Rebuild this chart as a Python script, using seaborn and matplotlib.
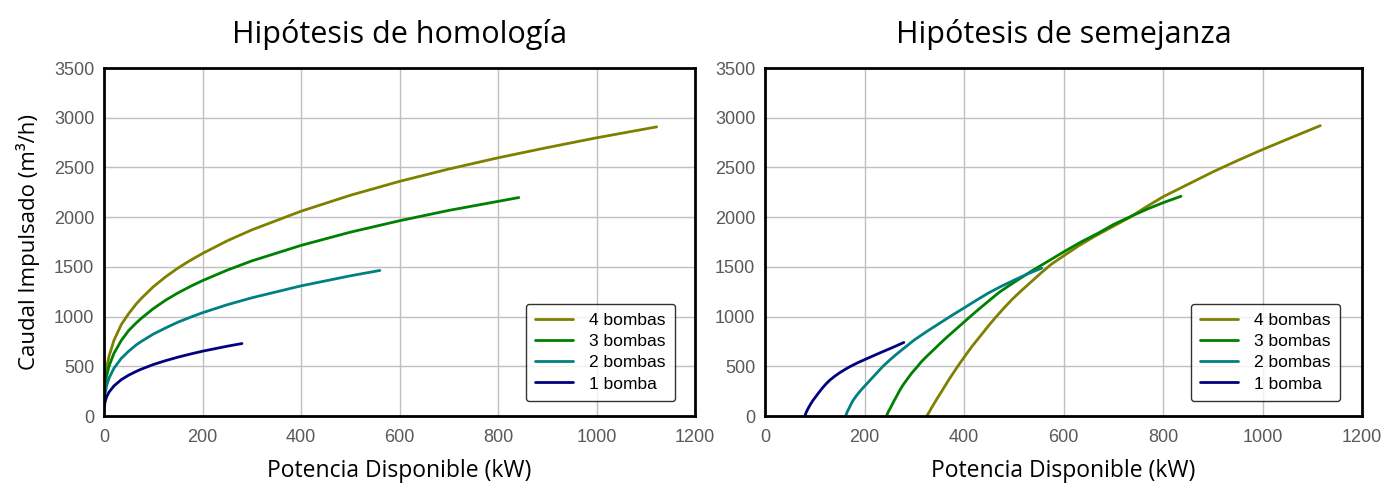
import pandas as pd
import numpy as np
import matplotlib
matplotlib.use("Agg")
import matplotlib.pyplot as plt
import seaborn as sns

# series labels and colours (legend order)
series = ["4 bombas", "3 bombas", "2 bombas", "1 bomba"]
colors = ["#808000", "#008000", "#008080", "#000080"]

# Hipotesis de homologia: potencia (kW) -> caudal (m3/h)
hom_p4 = [0.5, 2, 5, 10, 20, 35, 50, 65, 75, 100, 125, 150, 175, 200, 250, 300, 400, 500, 600, 700, 800, 900, 1000, 1122]
hom_q4 = [220, 350, 480, 600, 760, 920, 1030, 1125, 1180, 1300, 1400, 1488, 1565, 1635, 1762, 1872, 2060, 2220, 2360, 2484, 2597, 2700, 2798, 2908]
hom_p3 = [0.5, 2, 5, 10, 20, 35, 50, 65, 75, 100, 125, 150, 175, 200, 250, 300, 400, 500, 600, 700, 842]
hom_q3 = [190, 290, 400, 500, 630, 760, 860, 935, 980, 1080, 1165, 1238, 1303, 1362, 1467, 1560, 1716, 1849, 1964, 2068, 2197]
hom_p2 = [0.5, 2, 5, 10, 20, 35, 50, 65, 75, 100, 125, 150, 175, 200, 250, 300, 400, 500, 560]
hom_q2 = [140, 220, 300, 380, 480, 580, 652, 714, 748, 824, 886, 944, 993, 1039, 1119, 1189, 1309, 1410, 1464]
hom_p1 = [0.5, 2, 5, 10, 20, 35, 50, 65, 75, 100, 125, 150, 175, 200, 250, 280]
hom_q1 = [90, 140, 190, 240, 302, 366, 411, 448, 470, 518, 557, 592, 623, 652, 702, 729]

# Hipotesis de semejanza
sem_p4 = [325, 330, 335, 341, 347, 354, 362, 370, 378, 386, 395, 405, 416, 428, 440, 452, 464, 480,
          497, 515, 535, 555, 575, 600, 630, 660, 695, 734, 765, 800, 850, 900, 950, 1000, 1060, 1116]
sem_q4 = [0, 40, 85, 135, 185, 240, 305, 370, 430, 490, 555, 625, 700, 775, 850, 925, 995, 1085,
          1175, 1260, 1350, 1440, 1525, 1610, 1710, 1800, 1895, 2000, 2100, 2205, 2330, 2455, 2570, 2680, 2805, 2920]
sem_p3 = [244, 248, 254, 259, 264, 271, 278, 286, 295, 305, 315, 327, 339, 352, 366, 383, 400, 418,
          437, 455, 471, 490, 510, 538, 570, 600, 635, 670, 700, 734, 770, 800, 836]
sem_q3 = [0, 45, 100, 150, 195, 260, 317, 372, 433, 490, 550, 610, 667, 730, 795, 870, 945, 1025,
          1105, 1180, 1245, 1310, 1375, 1465, 1560, 1650, 1750, 1840, 1925, 2005, 2085, 2145, 2210]
sem_p2 = [162, 165, 170, 176, 183, 191, 200, 212, 225, 237, 250, 265, 280, 300, 325, 350, 375, 400,
          425, 450, 475, 500, 528, 556]
sem_q2 = [0, 40, 90, 150, 200, 250, 300, 365, 435, 500, 560, 625, 685, 765, 850, 930, 1010, 1087,
          1165, 1240, 1305, 1365, 1430, 1487]
sem_p1 = [80, 83, 87, 91, 96, 102, 108, 115, 122, 130, 140, 150, 160, 170, 185, 200, 215, 230, 245, 260, 279]
sem_q1 = [0, 40, 80, 115, 155, 195, 235, 280, 320, 360, 400, 435, 466, 495, 533, 567, 600, 633, 665, 697, 740]

x_ticks = [0, 200, 400, 600, 800, 1000, 1200]
y_ticks = [0, 500, 1000, 1500, 2000, 2500, 3000, 3500]


def long_frame(pairs):
    rows = []
    for name, (p, q) in zip(series, pairs):
        for a, b in zip(p, q):
            rows.append({"serie": name, "potencia": a, "caudal": b})
    return pd.DataFrame(rows)


hom = long_frame([(hom_p4, hom_q4), (hom_p3, hom_q3), (hom_p2, hom_q2), (hom_p1, hom_q1)])
sem = long_frame([(sem_p4, sem_q4), (sem_p3, sem_q3), (sem_p2, sem_q2), (sem_p1, sem_q1)])

sns.set_style("white")
plt.rcParams["font.family"] = ["Open Sans", "DejaVu Sans"]
plt.rcParams["text.color"] = "black"
plt.rcParams["axes.labelcolor"] = "black"

fig = plt.figure(figsize=(13.93, 4.91), dpi=100)
ax1 = fig.add_axes([0.0747, 0.1527, 0.4243, 0.7088])
ax2 = fig.add_axes([0.5492, 0.1527, 0.4286, 0.7088])

tick_font = ["Liberation Sans Narrow", "Liberation Sans", "DejaVu Sans"]

for ax, df, title, leg_x in [(ax1, hom, "Hipótesis de homología", 0.966),
                             (ax2, sem, "Hipótesis de semejanza", 0.963)]:
    sns.lineplot(data=df, x="potencia", y="caudal", hue="serie", hue_order=series,
                 palette=colors, sort=False, estimator=None, linewidth=2.0, ax=ax)
    ax.set_xlim(0, 1200)
    ax.set_ylim(0, 3500)
    ax.set_xticks(x_ticks)
    ax.set_yticks(y_ticks)
    ax.set_xticklabels([str(t) for t in x_ticks], family=tick_font, fontsize=13, color="#595959")
    ax.set_yticklabels([str(t) for t in y_ticks], family=tick_font, fontsize=13, color="#595959")
    ax.tick_params(axis="x", length=0, pad=9)
    ax.tick_params(axis="y", length=0, pad=7)
    ax.grid(True, color="#c0c0c0", linewidth=1)
    for sp in ax.spines.values():
        sp.set_visible(True)
        sp.set_color("black")
        sp.set_linewidth(2)
    ax.set_title(title, fontsize=22, pad=18, color="black")
    ax.set_xlabel("Potencia Disponible (kW)", fontsize=16.5, labelpad=10)
    ax.set_ylabel("")
    leg = ax.legend(loc="lower right", bbox_to_anchor=(leg_x, 0.043), fontsize=12.5,
                    frameon=True, fancybox=True, edgecolor="black", handlelength=2.2,
                    borderpad=0.55, labelspacing=0.34, handletextpad=0.9, borderaxespad=0)
    leg.get_frame().set_linewidth(1)
    for t in leg.get_texts():
        t.set_family(tick_font)
        t.set_color("black")

ax1.set_ylabel("Caudal Impulsado (m³/h)", fontsize=16, labelpad=10)

fig.savefig("out.png", dpi=100)
